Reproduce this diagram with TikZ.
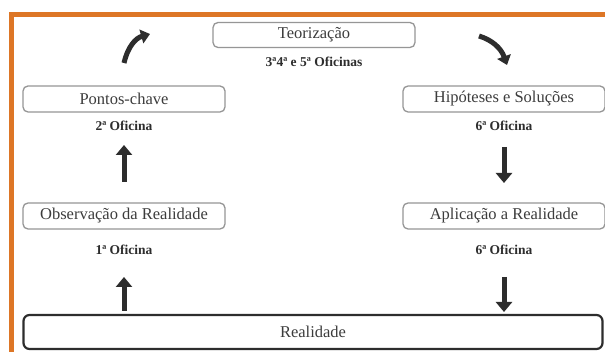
\documentclass[tikz,border=0pt]{standalone}
\usepackage{fontspec}
\setmainfont{Liberation Serif}
\usetikzlibrary{arrows.meta}
\definecolor{frameorange}{RGB}{221,118,38}
\definecolor{boxgray}{RGB}{150,150,150}
\definecolor{txtgray}{RGB}{60,60,60}
\definecolor{arrowdark}{RGB}{45,45,45}
\tikzset{
  stagebox/.style={draw=boxgray, line width=1.3pt, rounded corners=5pt, fill=white,
    minimum width=202pt, minimum height=26pt, inner sep=0pt,
    font=\fontsize{16.5}{16.5}\selectfont, text=txtgray},
  realbox/.style={draw=arrowdark, line width=2.2pt, rounded corners=6pt, fill=white,
    minimum width=579pt, minimum height=34pt, inner sep=0pt,
    font=\fontsize{16.5}{16.5}\selectfont, text=txtgray},
  oflabel/.style={font=\bfseries\fontsize{13.5}{13.5}\selectfont, text=arrowdark, inner sep=0pt},
  bigarrow/.style={draw=arrowdark, line width=5pt, -{Triangle[width=16pt,length=10pt]}},
  curvearrow/.style={draw=arrowdark, line width=5pt, -{Triangle[width=14pt,length=9pt]}}
}
\begin{document}
\begin{tikzpicture}[x=1pt,y=-1pt]
\useasboundingbox (0,0) rectangle (605,352);
\fill[white] (0,0) rectangle (605,352);
% orange frame
\draw[frameorange, line width=5pt] (11,352) -- (11,15) -- (605,15);

% nodes
\node[stagebox, minimum width=202pt, minimum height=25pt] (teo) at (314,35) {Teorização};
\node[oflabel] (teolab) at (314,62) {3ª4ª e 5ª Oficinas};

\node[stagebox] (pc) at (124,99) {Pontos-chave};
\node[oflabel] (pclab) at (124,126) {2ª Oficina};

\node[stagebox] (obs) at (124,216) {Observação da Realidade};
\node[oflabel] (obslab) at (124,250) {1ª Oficina};

\node[stagebox] (hip) at (504,99) {Hipóteses e Soluções};
\node[oflabel] (hiplab) at (504,126) {6ª Oficina};

\node[stagebox] (apl) at (504,216) {Aplicação a Realidade};
\node[oflabel] (apllab) at (504,250) {6ª Oficina};

\node[realbox] (real) at (313,332) {Realidade};

% arrow anchor coordinates
\coordinate (a1s) at (124,311);
\coordinate (a1e) at (124,277);
\coordinate (a2s) at (124,182);
\coordinate (a2e) at (124,145);
\coordinate (a3s) at (504,147);
\coordinate (a3e) at (504,183);
\coordinate (a4s) at (504,277);
\coordinate (a4e) at (504,312);
\coordinate (c1s) at (124,63);
\coordinate (c1e) at (150,34);
\coordinate (c2s) at (479,36);
\coordinate (c2e) at (507,65);

\draw[bigarrow] (a1s) -- (a1e);
\draw[bigarrow] (a2s) -- (a2e);
\draw[bigarrow] (a3s) -- (a3e);
\draw[bigarrow] (a4s) -- (a4e);
\draw[curvearrow] (c1s) .. controls (128,46) and (136,38) .. (c1e);
\draw[curvearrow] (c2s) .. controls (492,40) and (501,48) .. (c2e);
\end{tikzpicture}
\end{document}
